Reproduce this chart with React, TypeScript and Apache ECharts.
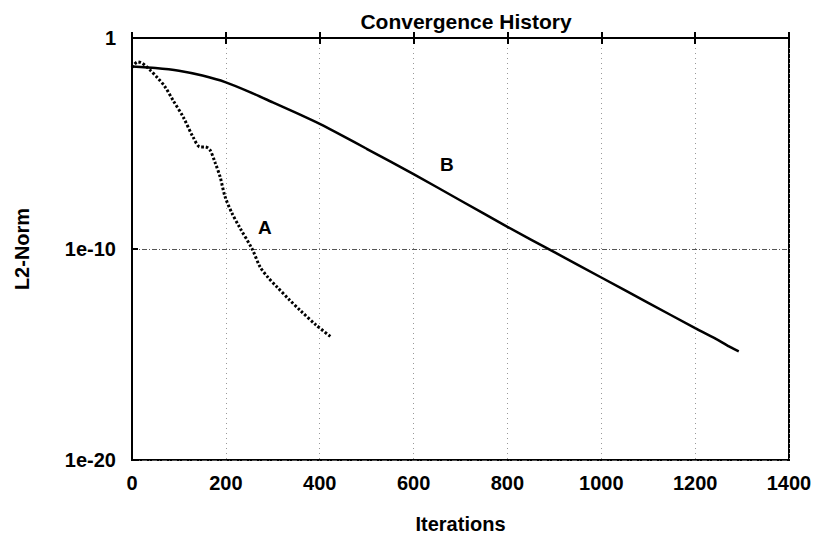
import React, { useEffect, useRef } from "react";
import * as echarts from "echarts";

// iterations and log10(L2-Norm)
const seriesAIter = [0, 5, 12, 20, 28, 40, 55, 70, 87, 109, 130, 145, 156, 166, 177, 188, 198, 213, 230, 256, 273, 290, 309, 335, 358, 392, 426];
const seriesAExp = [-1.4, -1.25, -1.13, -1.18, -1.3, -1.55, -1.9, -2.3, -2.94, -3.74, -4.69, -5.16, -5.16, -5.3, -5.9, -6.6, -7.5, -8.3, -9.0, -10.0, -10.85, -11.35, -11.8, -12.4, -12.9, -13.6, -14.2];
const seriesBIter = [0, 50, 100, 150, 200, 250, 300, 350, 400, 450, 500, 600, 700, 800, 900, 1000, 1100, 1200, 1250, 1275, 1293];
const seriesBExp = [-1.35, -1.42, -1.55, -1.78, -2.1, -2.55, -3.05, -3.55, -4.07, -4.65, -5.25, -6.45, -7.7, -8.95, -10.15, -11.35, -12.55, -13.75, -14.33, -14.65, -14.85];
const xTicks = [0, 200, 400, 600, 800, 1000, 1200, 1400];
const yTickExps = [0, -10, -20];
const labelA = { text: "A", iter: 283, exp: -9.0 };
const labelB = { text: "B", iter: 671, exp: -6.0 };

const FONT = "'Liberation Sans', Arial, sans-serif";

export default function App() {
  const ref = useRef<HTMLDivElement>(null);
  useEffect(() => {
    document.body.style.margin = "0";
    const chart = echarts.init(ref.current!, null, { renderer: "svg" });
    const dataA = seriesAIter.map((x, i) => [x, seriesAExp[i]]);
    const dataB = seriesBIter.map((x, i) => [x, seriesBExp[i]]);
    const textStyle = { fontFamily: FONT, fontWeight: "bold" as const, fontSize: 20, color: "#000" };
    const mk = (l: { text: string; iter: number; exp: number }) => ({
      symbol: "circle",
      symbolSize: 1,
      itemStyle: { color: "rgba(0,0,0,0)" },
      label: { show: true, position: "inside", ...textStyle, fontSize: 19 },
      data: [{ coord: [l.iter, l.exp], value: l.text, label: { formatter: l.text } }],
    });
    chart.setOption({
      animation: false,
      backgroundColor: "#fff",
      title: {
        text: "Convergence History",
        left: 461,
        textAlign: "center",
        top: 6,
        textStyle: { ...textStyle, fontSize: 21 },
      },
      grid: { left: 132, right: 818 - 789, top: 38, bottom: 541 - 460, show: true, borderColor: "#000", borderWidth: 2, backgroundColor: "transparent" },
      xAxis: [
        {
          type: "value",
          min: 0,
          max: 1400,
          interval: 200,
          name: "Iterations",
          nameLocation: "middle",
          nameGap: 54,
          nameTextStyle: textStyle,
          axisLine: { show: true, lineStyle: { color: "#000", width: 2 } },
          axisTick: { show: true, inside: true, length: 6, lineStyle: { color: "#000", width: 2 } },
          axisLabel: { ...textStyle, margin: 13, formatter: (v: number) => (xTicks.includes(v) ? String(v) : "") },
          splitLine: { show: true, lineStyle: { color: "#999", width: 1, type: [1, 4] } },
        },
        {
          type: "value",
          position: "top",
          min: 0,
          max: 1400,
          interval: 200,
          axisLine: { show: true, lineStyle: { color: "#000", width: 2 } },
          axisTick: { show: true, inside: true, length: 6, lineStyle: { color: "#000", width: 2 } },
          axisLabel: { show: false },
          splitLine: { show: false },
        },
      ],
      yAxis: {
        type: "value",
        min: -20,
        max: 0,
        interval: 10,
        name: "L2-Norm",
        nameLocation: "middle",
        nameGap: 100,
        nameTextStyle: textStyle,
        axisLine: { show: true, lineStyle: { color: "#000", width: 2 } },
        axisTick: { show: true, inside: true, length: 6, lineStyle: { color: "#000", width: 2 } },
        axisLabel: {
          ...textStyle,
          margin: 16,
          formatter: (v: number) => (yTickExps.includes(v) ? (v === 0 ? "1" : "1e" + v) : ""),
        },
        splitLine: { show: true, lineStyle: { color: "#555", width: 1, type: [5, 2, 1, 2] } },
      },
      series: [
        {
          name: "A",
          type: "line",
          data: dataA,
          showSymbol: false,
          smooth: 0.3,
          lineStyle: { color: "#000", width: 3, type: [2.5, 2] },
          markPoint: mk(labelA),
          z: 3,
        },
        {
          name: "B",
          type: "line",
          data: dataB,
          showSymbol: false,
          smooth: 0.2,
          lineStyle: { color: "#000", width: 2.5 },
          markPoint: mk(labelB),
          z: 3,
        },
      ],
    });
    return () => chart.dispose();
  }, []);
  return <div ref={ref} style={{ width: 818, height: 541 }} />;
}
